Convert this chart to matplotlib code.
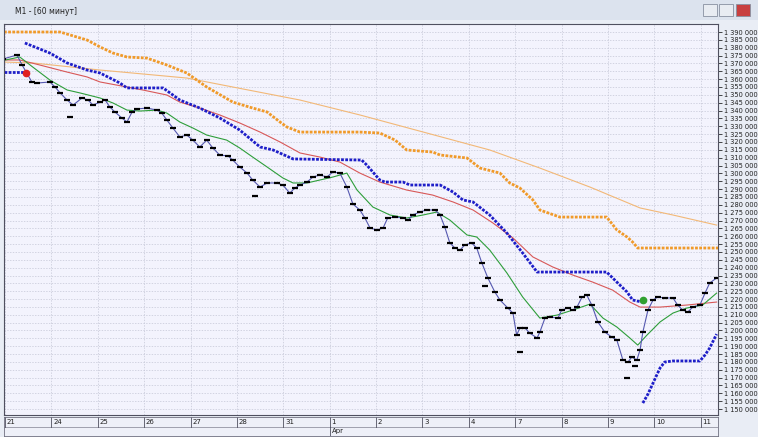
import numpy as np
import matplotlib
matplotlib.use("Agg")
import matplotlib.pyplot as plt
from matplotlib.patches import Rectangle

day_labels = ["21","24","25","26","27","28","31","1","2","3","4","7","8","9","10","11"]
month_label = "Apr"

close_x = [-0.04,0.26,0.37,0.47,0.58,0.69,0.97,1.08,1.19,1.34,1.47,1.66,1.79,1.90,2.05,2.16,2.26,2.37,2.52,2.63,2.74,2.84,3.06,3.28,3.38,3.49,3.62,3.77,3.92,4.05,4.20,4.35,4.48,4.63,4.81,4.91,5.06,5.22,5.34,5.50,5.65,5.86,5.99,6.14,6.25,6.36,6.51,6.64,6.79,6.94,7.07,7.22,7.37,7.50,7.65,7.76,7.87,8.02,8.15,8.25,8.41,8.58,8.69,8.79,8.94,9.09,9.27,9.38,9.48,9.59,9.70,9.81,9.91,10.06,10.17,10.28,10.41,10.56,10.67,10.84,10.95,11.03,11.10,11.21,11.31,11.47,11.53,11.64,11.75,11.92,12.00,12.13,12.24,12.33,12.44,12.54,12.65,12.78,12.93,13.08,13.19,13.32,13.43,13.51,13.62,13.69,13.75,13.86,13.97,14.07,14.22,14.40,14.50,14.61,14.72,14.83,14.98,15.09,15.19,15.34]
close_k = [1372.8,1375.4,1369.0,1363.9,1358.2,1357.5,1358.2,1355.0,1351.2,1346.7,1343.5,1348.0,1346.7,1343.5,1345.4,1346.7,1342.3,1339.1,1335.3,1332.7,1339.1,1341.0,1341.6,1340.3,1338.4,1334.0,1328.9,1323.2,1324.4,1321.2,1316.8,1321.2,1316.2,1311.7,1311.1,1308.5,1304.1,1300.2,1295.8,1291.3,1293.9,1293.9,1292.6,1287.5,1290.7,1292.6,1294.5,1297.7,1299.0,1297.7,1300.9,1300.2,1291.3,1280.5,1276.7,1271.6,1265.2,1264.0,1265.2,1271.6,1272.2,1271.6,1270.3,1273.5,1275.4,1276.7,1276.7,1273.5,1265.9,1255.7,1252.5,1251.2,1254.4,1255.7,1252.5,1243.0,1233.4,1224.5,1219.4,1214.3,1211.1,1197.1,1201.6,1201.6,1198.4,1195.2,1199.0,1207.9,1208.6,1207.9,1213.0,1214.3,1213.0,1214.9,1221.3,1222.6,1216.2,1205.4,1199.0,1195.8,1193.9,1181.2,1179.9,1183.1,1181.2,1187.6,1199.0,1213.0,1219.4,1221.3,1220.7,1220.7,1216.2,1213.0,1211.8,1215.0,1216.2,1223.8,1230.2,1233.4]

extra_x = [1.40,5.39,10.34,11.10,13.41,13.58]
extra_k = [1335.9,1285.6,1228.3,1186.3,1169.7,1177.4]

green_x = [-0.02,0.32,0.60,0.97,1.34,1.62,2.05,2.33,2.63,2.91,3.28,3.49,3.77,4.05,4.35,4.78,5.06,5.34,5.65,5.99,6.21,6.51,6.79,7.07,7.37,7.59,7.93,8.30,8.66,9.01,9.31,9.59,9.96,10.17,10.45,10.82,11.16,11.53,11.90,12.24,12.61,12.89,13.19,13.47,13.64,13.84,14.12,14.40,14.70,15.04,15.34]
green_k = [1372.0,1374.1,1367.7,1359.4,1353.1,1351.2,1348.0,1344.8,1340.3,1339.7,1340.3,1338.4,1332.7,1328.9,1324.4,1321.2,1316.2,1310.4,1304.1,1297.1,1293.9,1293.9,1295.8,1297.7,1300.2,1289.4,1278.6,1273.5,1271.6,1273.5,1275.4,1270.3,1260.8,1259.5,1251.2,1236.6,1221.3,1207.9,1209.8,1213.0,1216.8,1207.9,1202.2,1195.2,1190.7,1197.1,1205.4,1211.1,1214.3,1216.2,1223.8]

red_x = [-0.04,0.32,0.75,1.34,1.77,2.05,2.63,2.97,3.49,3.77,4.20,4.63,5.06,5.50,5.93,6.36,6.79,7.22,7.65,8.08,8.66,9.22,9.66,10.09,10.52,10.95,11.38,11.81,12.24,12.67,13.10,13.47,13.69,14.12,14.70,15.34]
red_k = [1372.2,1372.2,1369.0,1364.5,1361.4,1358.2,1355.0,1353.1,1349.9,1345.4,1341.6,1337.2,1332.1,1326.3,1320.0,1313.0,1310.4,1307.2,1300.2,1294.5,1289.4,1286.2,1281.8,1276.7,1268.4,1258.9,1246.8,1240.4,1235.3,1230.8,1225.7,1218.1,1214.9,1214.9,1216.2,1218.1]

tan_x = [-0.04,0.60,2.05,3.92,4.91,6.36,7.65,10.45,11.53,12.61,13.69,14.40,15.34]
tan_k = [1370.9,1370.3,1365.8,1360.7,1355.0,1346.7,1337.2,1314.9,1303.4,1291.3,1278.0,1273.5,1267.1]

orange_x = [-0.02,1.19,1.77,2.05,2.33,2.63,3.06,3.49,3.92,4.35,4.91,5.34,5.65,5.93,6.08,6.36,7.65,8.08,8.41,8.66,9.22,9.38,9.96,10.24,10.67,10.88,11.10,11.38,11.53,11.96,12.97,13.19,13.41,13.53,13.64,15.37]
orange_k = [1390.0,1390.0,1384.9,1380.5,1376.6,1374.1,1373.4,1369.0,1363.9,1355.0,1345.4,1341.6,1339.1,1332.7,1329.5,1326.3,1326.3,1325.7,1321.2,1314.9,1313.6,1311.7,1309.8,1303.4,1300.2,1293.9,1290.7,1283.1,1276.7,1272.2,1272.2,1264.0,1259.5,1256.3,1252.5,1252.5]

sar0_x = [-0.02,0.43]
sar0_k = [1364.5,1364.5]
sar1_x = [0.43,0.97,1.34,1.77,2.05,2.48,2.63,3.41,3.77,4.20,4.63,5.06,5.50,5.78,6.21,7.69,7.80,8.08,8.19,8.58,8.73,9.38,9.66,9.87,10.09,10.45,10.82,11.16,11.47,12.97,13.19,13.41,13.53,13.73]
sar1_k = [1383.0,1376.6,1370.3,1365.8,1363.9,1357.5,1354.4,1354.4,1346.7,1341.6,1335.3,1327.6,1316.8,1314.9,1309.2,1308.5,1305.3,1295.8,1294.5,1294.5,1292.6,1292.6,1288.1,1283.1,1281.8,1273.5,1262.0,1249.3,1237.2,1237.2,1230.8,1224.5,1219.4,1218.1]
sar2_x = [13.75,13.86,13.94,14.03,14.12,14.22,14.40,14.98,15.09,15.19,15.34]
sar2_k = [1153.8,1159.5,1164.6,1170.4,1176.1,1179.9,1180.6,1180.6,1184.4,1188.8,1197.7]

sell_x, sell_k = [0.45], [1363.9]
buy_x, buy_k = [13.75], [1219.4]

def P(a):
    return np.array(a) * 1000

W, H = 758, 437
fig = plt.figure(figsize=(W/100, H/100), dpi=100)
fig.patch.set_facecolor("#E9EDF5")

tb = fig.add_axes([0, 1-20/H, 1, 20/H]); tb.set_axis_off()
tb.add_patch(Rectangle((0,0),1,1,transform=tb.transAxes,color="#DCE3EE"))
tb.text(15/W, 0.45, "M1 - [60 минут]", fontsize=5.5, va="center", transform=tb.transAxes, color="#202020")
for i,xx in enumerate([703, 719, 736]):
    tb.add_patch(Rectangle((xx/W,0.2),14/W,0.6,transform=tb.transAxes,
                           facecolor="#C84040" if i==2 else "#E8ECF2", edgecolor="#8890A0", lw=0.6))

x0, x1 = 4, 718
ax = fig.add_axes([x0/W, 22/H, (x1-x0)/W, (415-24)/H])
ax.set_facecolor("#F3F3FD")
ax.set_xlim(-0.02, 15.37)
ax.set_ylim(1146200, 1395100)

dots = (0, (1.0, 0.5))
ax.plot(tan_x, P(tan_k), color="#F2B877", lw=0.8)
ax.plot(orange_x, P(orange_k), color="#F09A2A", lw=2.0, ls=dots)
ax.plot(red_x, P(red_k), color="#D85858", lw=0.8)
ax.plot(green_x, P(green_k), color="#2E9E3A", lw=0.8)
for sx, sk in [(sar0_x,sar0_k),(sar1_x,sar1_k),(sar2_x,sar2_k)]:
    ax.plot(sx, P(sk), color="#1E1EC8", lw=2.0, ls=dots)
ax.plot(close_x, P(close_k), color="#5558B0", lw=0.8)
ax.plot(close_x, P(close_k), ls="none", marker="_", ms=4, mew=1.6, color="black")
ax.plot(extra_x, P(extra_k), ls="none", marker="_", ms=4, mew=1.6, color="black")
ax.plot(sell_x, P(sell_k), "o", ms=4.5, color="#E02020")
ax.plot(buy_x, P(buy_k), "o", ms=4.5, color="#30A030")

yt = np.arange(1150000, 1390001, 5000)
ax.set_yticks(yt)
ax.set_yticklabels([f"{v:,}".replace(",", " ") for v in yt], fontsize=4.8, color="#202020")
ax.yaxis.tick_right()
ax.tick_params(axis="y", length=3, width=0.5, pad=1)
ax.set_xticks(range(16))
ax.tick_params(axis="x", length=0, labelbottom=False)
ax.grid(True, color="#C4C6D6", ls=(0,(2,2)), lw=0.5)
for s in ax.spines.values():
    s.set_color("#505060"); s.set_linewidth(0.8)

db = fig.add_axes([x0/W, 1/H, (x1-x0)/W, 19/H])
db.set_xlim(-0.02, 15.37); db.set_ylim(0, 2)
db.set_facecolor("#EEF0F8")
db.set_xticks([]); db.set_yticks([])
for s in db.spines.values():
    s.set_color("#707080"); s.set_linewidth(0.6)
db.axhline(1, color="#808090", lw=0.5)
for i, lab in enumerate(day_labels):
    db.plot([i, i], [1, 2], color="#505060", lw=0.6)
    db.text(i+0.04, 1.5, lab, fontsize=5, va="center", ha="left", color="#202020")
db.plot([7, 7], [0, 1], color="#505060", lw=0.6)
db.text(7.04, 0.5, month_label, fontsize=5, va="center", ha="left", color="#202020")

fig.savefig("out.png", dpi=100, facecolor=fig.get_facecolor())
